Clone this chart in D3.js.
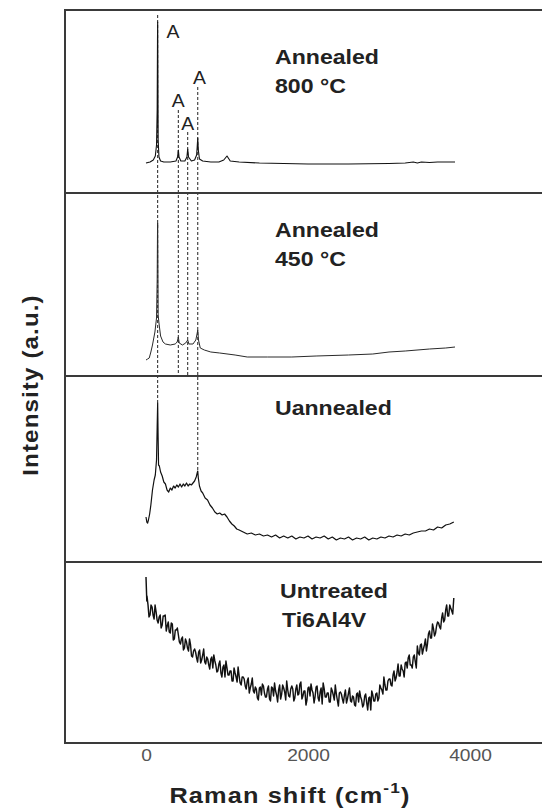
<!DOCTYPE html>
<html>
<head>
<meta charset="utf-8">
<script src="https://cdn.jsdelivr.net/npm/d3@7"></script>
<style>
  html, body { margin: 0; padding: 0; background: #fff; }
  svg { display: block; }
  text { font-family: "Liberation Sans", Arial, sans-serif; }
</style>
</head>
<body>
<svg id="chart" width="542" height="810"></svg>
<script>
// ---------------- DATA ----------------
const panelNames = ["800", "450", "un", "raw"];
const panelLabels = [["Annealed", "800 °C"], ["Annealed", "450 °C"], ["Uannealed"], ["Untreated", "Ti6Al4V"]];
const xTicks = [0, 2000, 4000];
const xTitle = "Raman shift (cm";
const yTitle = "Intensity (a.u.)";

// Raman shift (cm-1), intensity (a.u., per panel)
const spec800 = [[0,30],[50,31],[90,33],[115,37],[130,48],[138,83],[142,153],[144,171],[146,133],[150,53],[160,36],[180,32],[220,31],[300,31],[370,32],[390,36],[399,43],[408,36],[430,32],[480,32],[505,36],[515,44],[525,36],[560,32],[600,33],[625,38],[632,46],[639,55],[646,43],[660,34],[700,32],[800,31],[900,31],[960,33],[1000,37],[1040,32],[1150,31],[1400,30],[2000,29],[2500,29],[3000,29.5],[3200,30],[3300,31],[3350,30],[3400,31],[3500,30.5],[3600,31],[3700,31],[3815,31]];

const spec450 = [[0,16],[20,17],[40,18],[60,24],[80,31],[110,44],[130,58],[138,96],[142,146],[144,153],[146,126],[150,61],[160,53],[180,40],[210,34],[240,32],[300,31],[360,32],[385,34],[399,39],[410,33],[450,31],[490,33],[515,36],[530,32],[580,32],[615,36],[630,42],[639,46],[648,36],[670,28],[720,26],[800,24],[910,23],[1100,21],[1250,19],[1500,19],[1800,19],[2100,20],[2500,21],[2800,22],[3000,24],[3200,25],[3500,27],[3700,28],[3815,29]];

const specUn = [[0,45],[10,40],[20,39],[30,42],[45,48],[60,57],[80,72],[100,82],[115,87],[130,102],[138,135],[144,159],[149,128],[155,97],[165,96],[180,90],[200,86],[220,80],[240,78],[260,72],[280,70],[300,74],[320,72],[340,76],[360,74],[380,77],[400,75],[420,78],[440,75],[460,78],[480,76],[500,79],[520,76],[540,78],[560,77],[580,79],[600,81],[620,85],[632,89],[639,91],[646,84],[660,76],[680,71],[700,69],[730,64],[760,62],[790,57],[820,54],[850,50],[880,48],[910,49],[940,47],[970,48],[1000,45],[1030,41],[1060,38],[1090,36],[1120,33],[1150,32],[1200,30],[1250,28],[1300,29],[1350,27],[1400,28],[1450,26],[1500,27],[1550,25],[1600,27],[1650,24],[1700,26],[1750,24],[1800,26],[1850,23],[1900,25],[1950,24],[2000,26],[2050,23],[2100,25],[2150,24],[2200,26],[2250,23],[2300,25],[2350,22],[2400,24],[2450,23],[2500,25],[2550,22],[2600,24],[2650,23],[2700,25],[2750,22],[2800,24],[2850,23],[2900,25],[2950,24],[3000,26],[3050,25],[3100,27],[3150,26],[3200,28],[3250,27],[3300,29],[3350,30],[3400,31],[3450,31],[3500,33],[3550,32],[3600,35],[3650,34],[3700,37],[3750,38],[3800,40]];

const specRaw = [[0,166],[10,142],[25,138],[50,128],[75,136],[100,124],[125,131],[150,120],[175,128],[200,118],[225,127],[250,112],[275,121],[300,110],[325,119],[350,104],[375,113],[400,108],[425,99],[450,106],[475,95],[500,101],[525,92],[550,98],[575,86],[600,94],[625,85],[650,91],[675,80],[700,88],[725,81],[750,86],[775,78],[800,84],[825,75],[850,82],[875,71],[900,79],[925,70],[950,76],[975,66],[1000,75],[1025,68],[1050,72],[1075,62],[1100,70],[1125,61],[1150,67],[1175,58],[1200,66],[1225,57],[1250,62],[1275,50],[1300,59],[1325,52],[1350,56],[1375,45],[1400,55],[1425,48],[1450,57],[1475,46],[1500,54],[1525,44],[1550,56],[1575,47],[1600,52],[1625,41],[1650,58],[1675,49],[1700,55],[1725,43],[1750,53],[1775,46],[1800,57],[1825,42],[1850,54],[1875,48],[1900,59],[1925,44],[1950,52],[1975,38],[2000,55],[2025,47],[2050,53],[2075,40],[2100,56],[2125,45],[2150,51],[2175,39],[2200,54],[2225,46],[2250,50],[2275,41],[2300,52],[2325,43],[2350,49],[2375,37],[2400,51],[2425,44],[2450,48],[2475,40],[2500,50],[2525,42],[2550,47],[2575,38],[2600,49],[2625,41],[2650,46],[2675,36],[2700,47],[2725,40],[2750,45],[2775,33],[2800,48],[2825,42],[2850,50],[2875,45],[2900,55],[2925,49],[2950,58],[2975,53],[3000,64],[3025,58],[3050,68],[3075,62],[3100,71],[3125,67],[3150,78],[3175,72],[3200,80],[3225,75],[3250,88],[3275,78],[3300,86],[3325,81],[3350,97],[3375,88],[3400,99],[3425,94],[3450,104],[3475,99],[3500,112],[3525,105],[3550,114],[3575,110],[3600,121],[3625,116],[3650,125],[3675,121],[3700,133],[3725,127],[3750,138],[3775,132],[3800,145]];

// extra readings between the above ones (noisy untreated trace)
const specRawMid = [[12,147],[37,126],[62,138],[87,128],[112,138],[137,123],[162,126],[187,115],[212,127],[237,128],[262,117],[287,111],[312,120],[337,103],[362,113],[387,115],[412,101],[437,104],[462,93],[487,104],[512,95],[537,104],[562,87],[587,92],[612,91],[637,81],[662,93],[687,83],[712,94],[737,79],[762,84],[787,74],[812,86],[837,88],[862,78],[887,72],[912,82],[937,66],[962,78],[987,82],[1012,68],[1037,72],[1062,62],[1087,75],[1112,66],[1137,76],[1162,60],[1187,66],[1212,64],[1237,54],[1262,65],[1287,55],[1312,65],[1337,50],[1362,54],[1387,43],[1412,56],[1437,59],[1462,50],[1487,46],[1512,57],[1537,42],[1562,55],[1587,60],[1612,48],[1637,53],[1662,44],[1687,58],[1712,51],[1737,62],[1762,47],[1787,54],[1812,54],[1837,45],[1862,58],[1887,49],[1912,61],[1937,47],[1962,52],[1987,43],[2012,56],[2037,59],[2062,50],[2087,46],[2112,57],[2137,42],[2162,55],[2187,60],[2212,46],[2237,50],[2262,41],[2287,55],[2312,48],[2337,58],[2362,43],[2387,50],[2412,49],[2437,40],[2462,53],[2487,44],[2512,55],[2537,41],[2562,46],[2587,37],[2612,50],[2637,52],[2662,43],[2687,38],[2712,49],[2737,33],[2762,46],[2787,52],[2812,42],[2837,49],[2862,42],[2887,58],[2912,53],[2937,66],[2962,53],[2987,62],[3012,64],[3037,57],[3062,72],[3087,65],[3112,79],[3137,67],[3162,74],[3187,66],[3212,81],[3237,85],[3262,78],[3287,75],[3312,88],[3337,75],[3362,90],[3387,98],[3412,89],[3437,98],[3462,92],[3487,109],[3512,105],[3537,119],[3562,107],[3587,117],[3612,120],[3637,114],[3662,130],[3687,123],[3712,138],[3737,127],[3762,135],[3787,129]];

// Anatase peak markers: position (cm-1), label height & line top in panel-1 units, last panel reached
const peakPos = [144, 399, 515, 639];
const peakLabelLevel = [155, 86, 63, 109];
const peakLabelShift = [190, 0, 0, 20];     // label offset in cm-1
const peakLineTop = [178, 83, 61, 106];
const peakEndPanel = [2, 1, 1, 2];
const peakEndValue = [159, 0, 0, 91];

// ---------------- LAYOUT ----------------
const spectra = [spec800, spec450, specUn,
  specRaw.concat(specRawMid).sort((a, b) => a[0] - b[0])];
const traceColor = ["#111", "#2a2a2a", "#111", "#111"];
const traceWidth = [1.1, 1.0, 1.2, 1.45];

const svg = d3.select("#chart");
const left = 65, right = 551;
const bounds = [10, 193, 376, 562, 743];

const x = d3.scaleLinear().domain([-1000, 5000]).range([left, right]);
const yScales = panelNames.map((n, i) =>
  d3.scaleLinear().domain([0, bounds[i + 1] - bounds[i]]).range([bounds[i + 1], bounds[i]]));

const frameColor = "#3a3a3a";

// dashed marker lines (behind traces)
const dashG = svg.append("g");
peakPos.forEach((p, i) => {
  const y0 = yScales[0](peakLineTop[i]);
  const y1 = yScales[peakEndPanel[i]](peakEndValue[i]);
  dashG.append("line")
    .attr("x1", x(p)).attr("x2", x(p))
    .attr("y1", y0).attr("y2", y1)
    .attr("stroke", "#222").attr("stroke-width", 1)
    .attr("stroke-dasharray", "3,2");
});

// traces
spectra.forEach((s, i) => {
  const line = d3.line().x(d => x(d[0])).y(d => yScales[i](d[1]));
  svg.append("path")
    .datum(s)
    .attr("d", line)
    .attr("fill", "none")
    .attr("stroke", traceColor[i])
    .attr("stroke-width", traceWidth[i])
    .attr("stroke-linejoin", "round");
});

// "A" labels
peakPos.forEach((p, i) => {
  svg.append("text")
    .attr("transform", `translate(${x(p + peakLabelShift[i])},${yScales[0](peakLabelLevel[i])}) scale(1.08,1)`)
    .attr("text-anchor", "middle")
    .attr("font-size", 18)
    .attr("fill", "#222")
    .text("A");
});

// frame and dividers
svg.append("rect")
  .attr("x", left).attr("y", bounds[0])
  .attr("width", right - left).attr("height", bounds[4] - bounds[0])
  .attr("fill", "none").attr("stroke", frameColor).attr("stroke-width", 2);
bounds.slice(1, 4).forEach(b => {
  svg.append("line").attr("x1", left).attr("x2", right)
    .attr("y1", b).attr("y2", b)
    .attr("stroke", frameColor).attr("stroke-width", 2);
});

// panel labels
const labelX = [275, 275, 275, 280];
const labelY = [64, 237, 415, 598];
panelLabels.forEach((lines, i) => {
  lines.forEach((t, j) => {
    svg.append("text")
      .attr("transform", `translate(${labelX[i] + (i === 3 && j === 1 ? 2 : 0)},${labelY[i] + j * 29}) scale(1.1,1)`)
      .attr("font-size", 21)
      .attr("font-weight", "bold")
      .attr("fill", "#222")
      .text(t);
  });
});

// x axis (tick labels only)
const xAxis = d3.axisBottom(x).tickValues(xTicks).tickSize(0).tickPadding(7).tickFormat(d3.format("d"));
const axG = svg.append("g").attr("transform", `translate(0,${bounds[4]})`).call(xAxis);
axG.select(".domain").remove();
axG.selectAll("text")
  .attr("font-family", "'Liberation Sans', Arial, sans-serif")
  .attr("font-size", 16)
  .attr("fill", "#555")
  .attr("transform", "scale(1.2,1)");

// axis titles
const xt = svg.append("text")
  .attr("transform", "translate(290,803) scale(1.15,1)")
  .attr("text-anchor", "middle")
  .attr("letter-spacing", 1)
  .attr("font-size", 22).attr("font-weight", "bold").attr("fill", "#222");
xt.append("tspan").text(xTitle);
xt.append("tspan").attr("font-size", 15).attr("dy", -10).text("-1");
xt.append("tspan").attr("dy", 10).text(")");

svg.append("text")
  .attr("transform", "translate(38,385) rotate(-90) scale(1.1,1)")
  .attr("text-anchor", "middle")
  .attr("letter-spacing", 1)
  .attr("font-size", 22).attr("font-weight", "bold").attr("fill", "#222")
  .text(yTitle);
</script>
</body>
</html>
